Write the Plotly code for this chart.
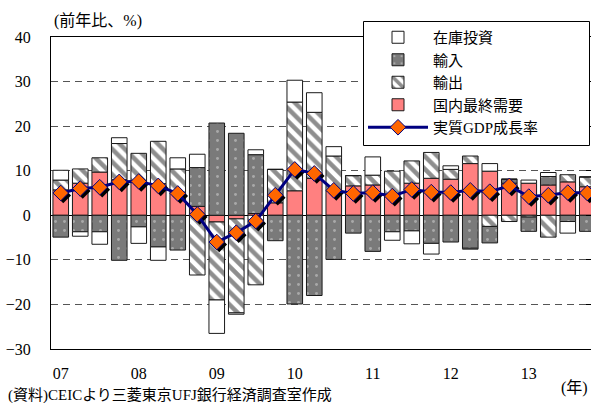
import plotly.graph_objects as go

quarters = ["2007Q1", "2007Q2", "2007Q3", "2007Q4",
            "2008Q1", "2008Q2", "2008Q3", "2008Q4",
            "2009Q1", "2009Q2", "2009Q3", "2009Q4",
            "2010Q1", "2010Q2", "2010Q3", "2010Q4",
            "2011Q1", "2011Q2", "2011Q3", "2011Q4",
            "2012Q1", "2012Q2", "2012Q3", "2012Q4",
            "2013Q1", "2013Q2", "2013Q3", "2013Q4"]
year_ticks = ["2007Q1", "2008Q1", "2009Q1", "2010Q1", "2011Q1", "2012Q1", "2013Q1"]
year_labels = ["07", "08", "09", "10", "11", "12", "13"]

domestic = [5.7, 7.2, 9.7, 8.0, 7.8, 7.1, 5.2, 2.0, -1.5, -0.8, 0.4, 2.8, 5.5, 8.3,
            5.5, 6.6, 6.8, 4.3, 7.2, 8.3, 8.1, 11.6, 9.9, 7.2, 7.2, 6.8, 7.5, 6.4]
exports = [2.2, 3.2, 3.2, 8.1, 6.1, 9.5, 5.2, -13.4, -17.5, -21.1, -15.6, 7.5, 19.9, 14.8,
           7.8, 2.3, 2.2, 5.6, 5.0, 5.8, 2.2, 1.7, -2.5, -1.4, -0.4, -4.9, 1.6, 2.2]
imports = [-4.9, -3.7, -3.7, -10.1, -2.6, -7.1, -7.8, 8.7, 20.7, 18.4, 13.2, -5.7, -19.9, -18.0,
           -9.9, -4.0, -8.1, -3.7, -3.5, -6.3, -6.0, -7.4, -3.7, 0.9, -3.2, 1.9, -1.4, -3.6]
inventory = [2.2, -1.0, -2.8, 1.3, -3.7, -3.0, 2.5, 3.0, -7.5, -0.3, 1.1, 0.0, 4.9, 4.4,
             2.1, 0.0, 4.1, -1.9, -2.9, -2.4, 0.8, -0.2, 1.7, 0.0, 0.7, 0.9, -2.6, 0.0]
gdp = [5.0, 6.0, 6.3, 7.5, 7.6, 6.6, 4.9, 0.2, -6.0, -3.9, -1.3, 4.5, 10.3, 9.4,
       5.6, 4.9, 5.1, 4.3, 5.8, 5.2, 5.1, 5.6, 5.3, 6.6, 4.2, 4.5, 5.1, 5.0]

FONT = "Liberation Serif, 'Noto Sans CJK JP', serif"
W, H = 591, 403
ML, MR, MT, MB = 51, 0, 37, 54
YR = [-30, 40]
XR = [-0.5, 27.19]
plot_w = W - ML - MR
plot_h = H - MT - MB
px_x = plot_w / (XR[1] - XR[0])
px_y = plot_h / (YR[1] - YR[0])
sh = 2.5  # shadow offset in px
XR_sh = [XR[0] - sh / px_x, XR[1] - sh / px_x]
YR_sh = [YR[0] + sh / px_y, YR[1] + sh / px_y]


def px2paper_x(px):
    return (px - ML) / plot_w


def px2paper_y(py):
    return 1 - (py - MT) / plot_h


edge = dict(color="#1a1a1a", width=1)

fig = go.Figure()
fig.add_trace(go.Bar(
    x=quarters, y=domestic, name="国内最終需要", legendrank=4,
    marker=dict(color="#FF8080", line=edge)))
fig.add_trace(go.Bar(
    x=quarters, y=exports, name="輸出", legendrank=3,
    marker=dict(color="white", line=edge,
                pattern=dict(shape="\\", fgcolor="#1e1e1e", bgcolor="white",
                             size=9, solidity=0.5))))
fig.add_trace(go.Bar(
    x=quarters, y=imports, name="輸入", legendrank=2,
    marker=dict(color="#808080", line=edge,
                pattern=dict(shape=".", fgcolor="#d8d8d8", bgcolor="#7a7a7a",
                             size=9, solidity=0.08))))
fig.add_trace(go.Bar(
    x=quarters, y=inventory, name="在庫投資", legendrank=1,
    marker=dict(color="white", line=edge)))

# marker shadow
fig.add_trace(go.Scatter(
    x=quarters, y=gdp, xaxis="x2", yaxis="y2", mode="markers",
    marker=dict(symbol="diamond", size=12, color="black", line=dict(width=0)),
    showlegend=False, hoverinfo="skip"))
# GDP line
fig.add_trace(go.Scatter(
    x=quarters, y=gdp, xaxis="x3", yaxis="y3", mode="lines+markers",
    name="実質GDP成長率", legendrank=5,
    line=dict(color="#000080", width=3),
    marker=dict(symbol="diamond", size=12, color="#FF6600",
                line=dict(color="#000080", width=1))))

fig.update_layout(
    width=W, height=H,
    margin=dict(l=ML, r=MR, t=MT, b=MB, autoexpand=False),
    paper_bgcolor="white", plot_bgcolor="white",
    barmode="relative", bargap=0.2,
    font=dict(family=FONT, size=16, color="black"),
    showlegend=True,
    legend=dict(x=px2paper_x(363), xanchor="left",
                y=px2paper_y(21), yanchor="top",
                bgcolor="rgba(0,0,0,0)", borderwidth=0,
                font=dict(family=FONT, size=15), tracegroupgap=0,
                itemwidth=60),
    xaxis=dict(type="category", categoryorder="array", categoryarray=quarters,
               range=XR, tickmode="array", tickvals=year_ticks, ticktext=year_labels,
               ticks="", showgrid=False, showline=True, mirror=True,
               linecolor="black", linewidth=1, zeroline=False,
               tickfont=dict(family=FONT, size=16), ticklabelstandoff=10),
    yaxis=dict(range=YR, tickmode="linear", tick0=0, dtick=10,
               ticks="", showgrid=True, gridcolor="#555555", griddash="7px,5px",
               gridwidth=1, zeroline=True, zerolinecolor="black", zerolinewidth=1,
               showline=True, linecolor="black", linewidth=1, mirror=False,
               tickfont=dict(family=FONT, size=16), ticklabelstandoff=16),
    xaxis2=dict(type="category", categoryorder="array", categoryarray=quarters,
                range=XR_sh, overlaying="x", anchor="y2", visible=False),
    yaxis2=dict(range=YR_sh, overlaying="y", anchor="x2", visible=False),
    xaxis3=dict(type="category", categoryorder="array", categoryarray=quarters,
                range=XR, overlaying="x", anchor="y3", visible=False),
    yaxis3=dict(range=YR, overlaying="y", anchor="x3", side="right",
                tickmode="linear", tick0=0, dtick=10, ticks="inside", ticklen=5,
                tickcolor="black", showticklabels=False, showgrid=False,
                zeroline=False, showline=False),
)

# legend frame (the legend itself is drawn on top of it)
fig.add_shape(type="rect", xref="paper", yref="paper", layer="above",
              x0=px2paper_x(363.5), x1=px2paper_x(589.5),
              y0=px2paper_y(145.5), y1=px2paper_y(21.5),
              fillcolor="white", line=dict(color="black", width=1))

fig.add_annotation(text="(前年比、%)", xref="paper", yref="paper",
                   x=px2paper_x(52), xanchor="left",
                   y=px2paper_y(21), yanchor="middle",
                   showarrow=False, font=dict(family=FONT, size=16))
fig.add_annotation(text="(年)", xref="paper", yref="paper",
                   x=px2paper_x(590), xanchor="right",
                   y=px2paper_y(388), yanchor="middle",
                   showarrow=False, font=dict(family=FONT, size=16))
fig.add_annotation(text="(資料)CEICより三菱東京UFJ銀行経済調査室作成",
                   xref="paper", yref="paper",
                   x=px2paper_x(6), xanchor="left",
                   y=px2paper_y(395), yanchor="middle",
                   showarrow=False, font=dict(family=FONT, size=15))

fig.write_html("out.html", config={"displayModeBar": False},
               post_script="document.body.style.margin='0';document.body.style.overflow='hidden';")
